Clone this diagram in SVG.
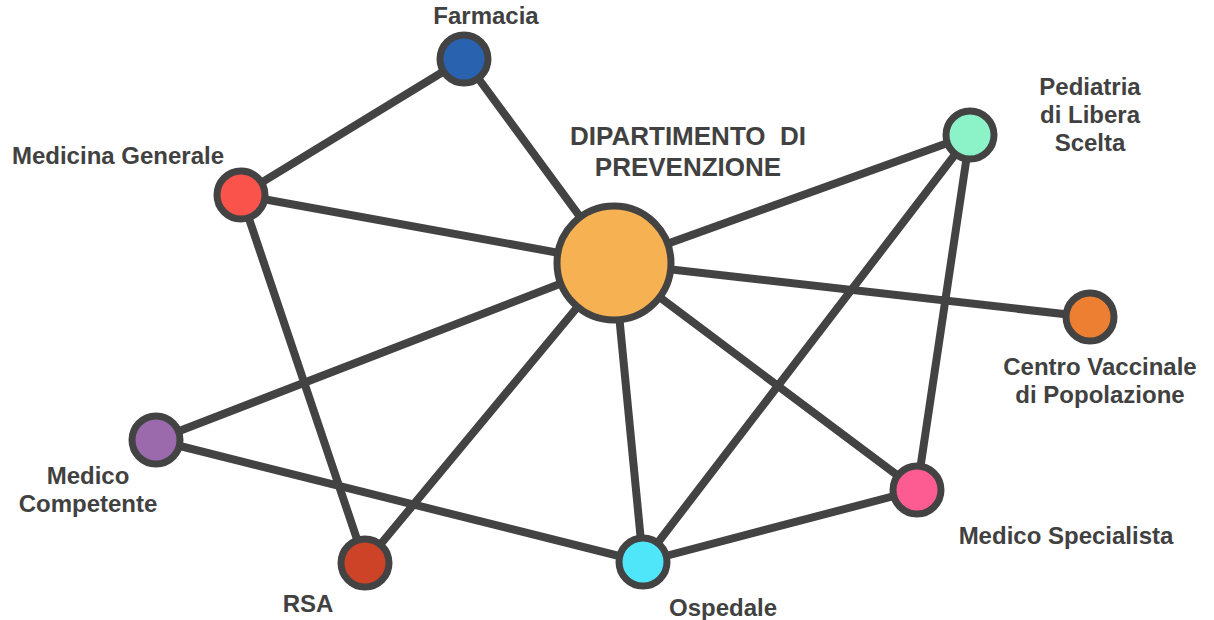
<svg xmlns="http://www.w3.org/2000/svg" width="1214" height="620" viewBox="0 0 1214 620">
<style>
.e{stroke:#434343;stroke-width:8;stroke-linecap:round}
.n{stroke:#434343;stroke-width:7}
.t{font-family:"Liberation Sans",Arial,sans-serif;font-weight:bold;font-size:24px;fill:#414141;text-anchor:middle}
.big{font-size:26px}
</style>
<rect width="1214" height="620" fill="#ffffff"/>
<g id="connectors">
<line class="e" x1="464" y1="59" x2="241" y2="195"/>
<line class="e" x1="464" y1="59" x2="614" y2="263"/>
<line class="e" x1="241" y1="195" x2="614" y2="263"/>
<line class="e" x1="241" y1="195" x2="365" y2="563"/>
<line class="e" x1="614" y1="263" x2="970" y2="135"/>
<line class="e" x1="614" y1="263" x2="1090" y2="317"/>
<line class="e" x1="614" y1="263" x2="156" y2="440"/>
<line class="e" x1="614" y1="263" x2="365" y2="563"/>
<line class="e" x1="614" y1="263" x2="643" y2="562"/>
<line class="e" x1="614" y1="263" x2="917" y2="490"/>
<line class="e" x1="970" y1="135" x2="643" y2="562"/>
<line class="e" x1="970" y1="135" x2="917" y2="490"/>
<line class="e" x1="156" y1="440" x2="643" y2="562"/>
<line class="e" x1="643" y1="562" x2="917" y2="490"/>
</g>
<g id="farmacia">
<circle class="n" cx="464" cy="59" r="24" fill="#2962ae"/>
<text class="t" x="486" y="24">Farmacia</text>
</g>
<g id="medicina-generale">
<circle class="n" cx="241" cy="195" r="24" fill="#f9534c"/>
<text class="t" x="118" y="164">Medicina Generale</text>
</g>
<g id="dipartimento">
<circle class="n" cx="614" cy="263" r="57" fill="#f6b153"/>
<text class="t big" x="688" y="145" xml:space="preserve">DIPARTIMENTO  DI</text>
<text class="t big" x="688" y="176">PREVENZIONE</text>
</g>
<g id="pediatria">
<circle class="n" cx="970" cy="135" r="24" fill="#8cf2c7"/>
<text class="t" x="1090" y="95">Pediatria</text>
<text class="t" x="1090" y="123">di Libera</text>
<text class="t" x="1090" y="151">Scelta</text>
</g>
<g id="centro-vaccinale">
<circle class="n" cx="1090" cy="317" r="24" fill="#ec7f31"/>
<text class="t" x="1100" y="375">Centro Vaccinale</text>
<text class="t" x="1100" y="403">di Popolazione</text>
</g>
<g id="medico-competente">
<circle class="n" cx="156" cy="440" r="24" fill="#9a6aac"/>
<text class="t" x="88" y="484">Medico</text>
<text class="t" x="88" y="512">Competente</text>
</g>
<g id="rsa">
<circle class="n" cx="365" cy="563" r="24" fill="#cc4327"/>
<text class="t" x="308" y="612">RSA</text>
</g>
<g id="ospedale">
<circle class="n" cx="643" cy="562" r="24" fill="#4fe6fa"/>
<text class="t" x="723" y="616">Ospedale</text>
</g>
<g id="medico-specialista">
<circle class="n" cx="917" cy="490" r="24" fill="#fd5c93"/>
<text class="t" x="1066" y="544">Medico Specialista</text>
</g>
</svg>
